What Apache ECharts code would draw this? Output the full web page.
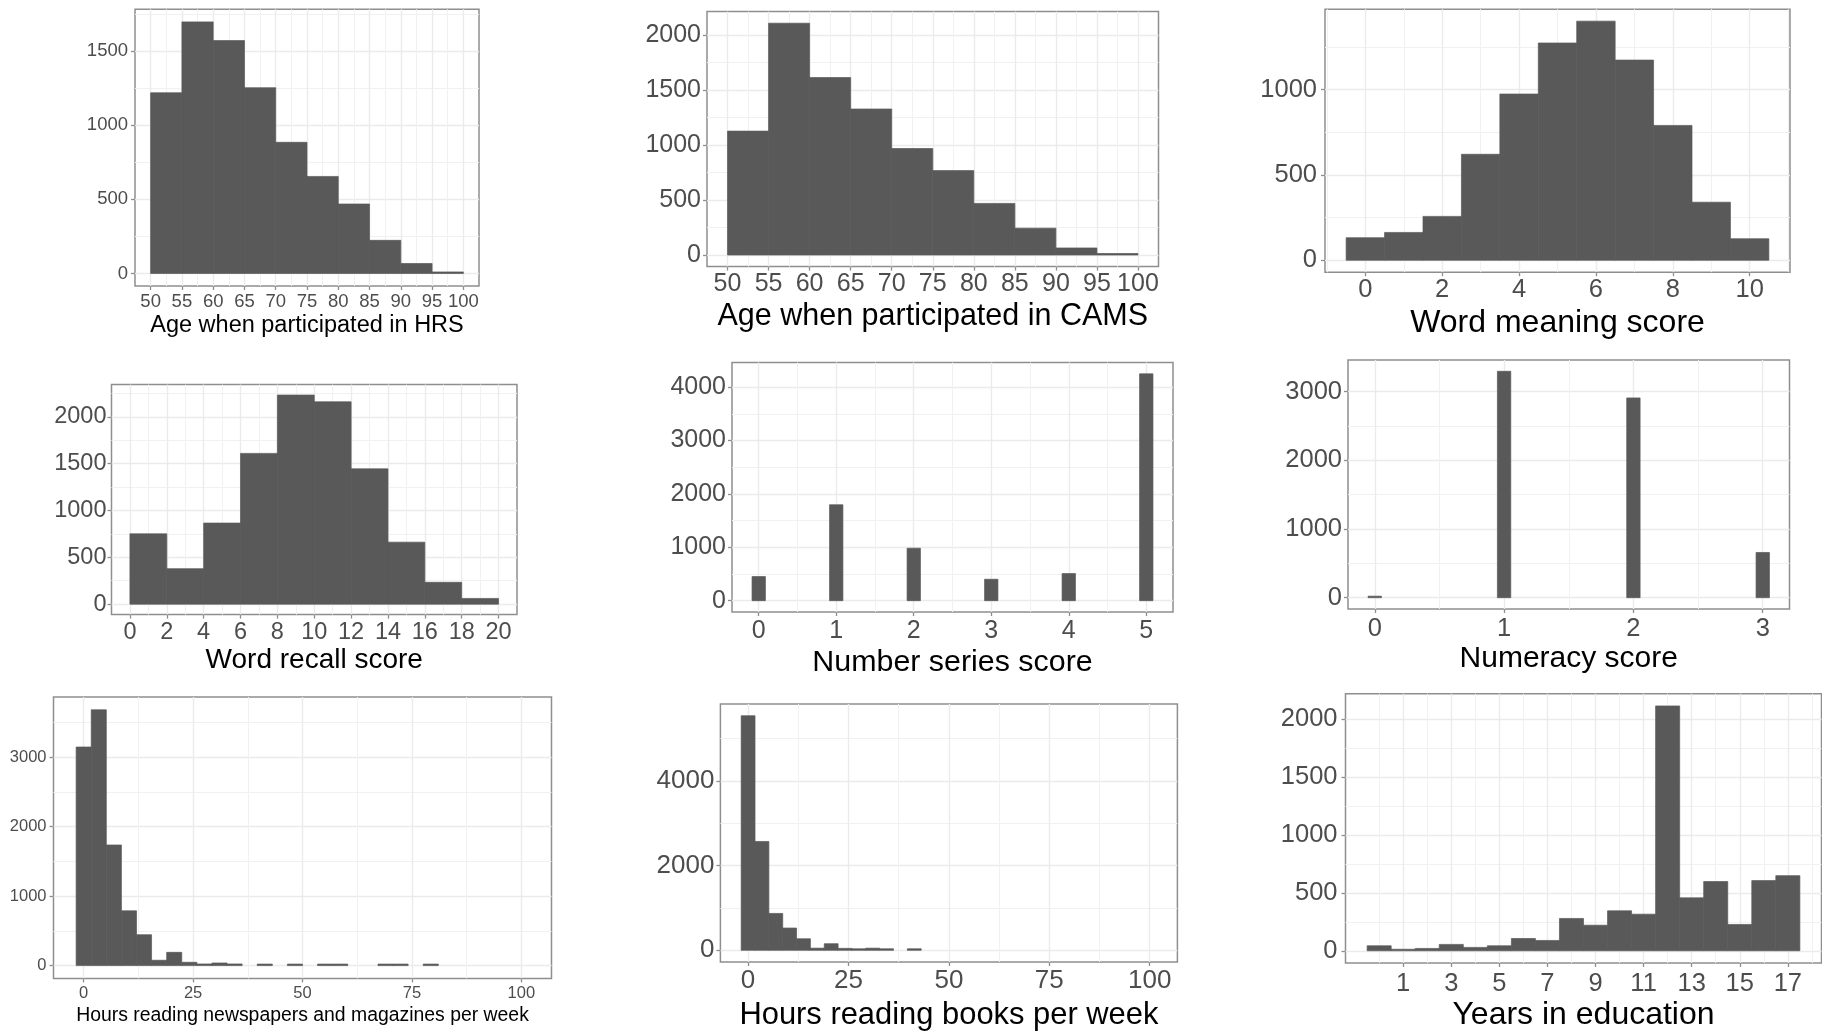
<!DOCTYPE html>
<html><head><meta charset="utf-8">
<script src="https://cdn.jsdelivr.net/npm/echarts@6/dist/echarts.min.js"></script>
<style>html,body{margin:0;padding:0;background:#fff}#c{width:1822px;height:1032px}</style>
</head><body><div id="c"></div>
<script>
// ===== DATA =====
// 1. Age when participated in HRS (bin edges, counts)
const hrsAgeEdges = [50, 55, 60, 65, 70, 75, 80, 85, 90, 95, 100];
const hrsAgeCounts = [1218, 1696, 1570, 1252, 884, 654, 468, 223, 67, 5];
const hrsAgeXTicks = [50, 55, 60, 65, 70, 75, 80, 85, 90, 95, 100];
const hrsAgeYTicks = [0, 500, 1000, 1500];

// 2. Age when participated in CAMS
const camsAgeEdges = [50, 55, 60, 65, 70, 75, 80, 85, 90, 95, 100];
const camsAgeCounts = [1126, 2107, 1613, 1327, 968, 767, 469, 244, 64, 9];
const camsAgeXTicks = [50, 55, 60, 65, 70, 75, 80, 85, 90, 95, 100];
const camsAgeYTicks = [0, 500, 1000, 1500, 2000];

// 3. Word meaning score (bin centres, bin width, counts)
const wordMeaningCenters = [0, 1, 2, 3, 4, 5, 6, 7, 8, 9, 10];
const wordMeaningBinWidth = 1;
const wordMeaningCounts = [132, 163, 257, 621, 974, 1273, 1401, 1173, 790, 340, 126];
const wordMeaningXTicks = [0, 2, 4, 6, 8, 10];
const wordMeaningYTicks = [0, 500, 1000];

// 4. Word recall score
const wordRecallEdges = [0, 2, 4, 6, 8, 10, 12, 14, 16, 18, 20];
const wordRecallCounts = [751, 379, 866, 1610, 2233, 2161, 1445, 662, 233, 61];
const wordRecallXTicks = [0, 2, 4, 6, 8, 10, 12, 14, 16, 18, 20];
const wordRecallYTicks = [0, 500, 1000, 1500, 2000];

// 5. Number series score
const numberSeriesCenters = [0, 1, 2, 3, 4, 5];
const numberSeriesBinWidth = 0.1724;
const numberSeriesCounts = [451, 1797, 983, 401, 507, 4250];
const numberSeriesXTicks = [0, 1, 2, 3, 4, 5];
const numberSeriesYTicks = [0, 1000, 2000, 3000, 4000];

// 6. Numeracy score
const numeracyCenters = [0, 1, 2, 3];
const numeracyBinWidth = 0.1034;
const numeracyCounts = [10, 3295, 2908, 658];
const numeracyXTicks = [0, 1, 2, 3];
const numeracyYTicks = [0, 1000, 2000, 3000];

// 7. Hours reading newspapers and magazines per week
const newsCenters = [0, 3.45, 6.9, 10.34, 13.79, 17.24, 20.69, 24.14, 27.59, 31.03, 34.48, 37.93, 41.38, 44.83, 48.28,
  51.72, 55.17, 58.62, 62.07, 65.52, 68.97, 72.41, 75.86, 79.31, 82.76, 86.21, 89.66, 93.1, 96.55, 100];
const newsBinWidth = 3.448;
const newsCounts = [3148, 3684, 1737, 789, 445, 77, 191, 48, 24, 38, 24, 0, 6, 0, 6,
  0, 6, 6, 0, 0, 6, 6, 0, 6, 0, 0, 0, 0, 0, 0];
const newsXTicks = [0, 25, 50, 75, 100];
const newsYTicks = [0, 1000, 2000, 3000];

// 8. Hours reading books per week
const booksCenters = [0, 3.45, 6.9, 10.34, 13.79, 17.24, 20.69, 24.14, 27.59, 31.03, 34.48, 37.93, 41.38, 44.83, 48.28,
  51.72, 55.17, 58.62, 62.07, 65.52, 68.97, 72.41, 75.86, 79.31, 82.76, 86.21, 89.66, 93.1, 96.55, 100];
const booksBinWidth = 3.448;
const booksCounts = [5540, 2570, 870, 525, 272, 50, 155, 45, 28, 50, 22, 0, 18, 0, 0,
  0, 0, 0, 0, 0, 0, 0, 0, 0, 0, 0, 0, 0, 0, 0];
const booksXTicks = [0, 25, 50, 75, 100];
const booksYTicks = [0, 2000, 4000];

// 9. Years in education
const educationCenters = [0, 1, 2, 3, 4, 5, 6, 7, 8, 9, 10, 11, 12, 13, 14, 15, 16, 17];
const educationBinWidth = 1;
const educationCounts = [43, 11, 20, 55, 29, 43, 106, 89, 279, 221, 345, 316, 2115, 457, 598, 227, 606, 649];
const educationXTicks = [1, 3, 5, 7, 9, 11, 13, 15, 17];
const educationYTicks = [0, 500, 1000, 1500, 2000];

// ===== HELPERS =====
function binsFromEdges(edges, counts) { return counts.map((c, i) => [edges[i], edges[i + 1], c]); }
function binsFromCenters(centers, w, counts) { return counts.map((c, i) => [centers[i] - w / 2, centers[i] + w / 2, c]); }
function minorOf(majors, min, max) {
  const step = majors[1] - majors[0];
  const b = [majors[0] - step].concat(majors, [majors[majors.length - 1] + step]);
  const out = [];
  for (let i = 0; i < b.length - 1; i++) out.push((b[i] + b[i + 1]) / 2);
  return out.filter(v => v > min && v < max);
}

const FONT = "'Liberation Sans', Arial, Helvetica, sans-serif";

const panels = [
  { bins: binsFromEdges(hrsAgeEdges, hrsAgeCounts), xt: hrsAgeXTicks, yt: hrsAgeYTicks, title: 'Age when participated in HRS',
    L: 135, T: 9.3, W: 344, H: 276.7, tick: 18.5, name: 23.5, xm: 6, ym: 7, gap: 27.5 },
  { bins: binsFromEdges(camsAgeEdges, camsAgeCounts), xt: camsAgeXTicks, yt: camsAgeYTicks, title: 'Age when participated in CAMS',
    L: 707, T: 11.6, W: 451.5, H: 255, tick: 25, name: 30.5, xm: 5, ym: 6, gap: 34 },
  { bins: binsFromCenters(wordMeaningCenters, wordMeaningBinWidth, wordMeaningCounts), xt: wordMeaningXTicks, yt: wordMeaningYTicks, title: 'Word meaning score',
    L: 1325, T: 9.2, W: 465, H: 263, tick: 25.5, name: 32, xm: 5, ym: 8, gap: 34.5 },
  { bins: binsFromEdges(wordRecallEdges, wordRecallCounts), xt: wordRecallXTicks, yt: wordRecallYTicks, title: 'Word recall score',
    L: 111.5, T: 384.6, W: 405.5, H: 230, tick: 23.5, name: 28, xm: 6, ym: 5, gap: 31.5 },
  { bins: binsFromCenters(numberSeriesCenters, numberSeriesBinWidth, numberSeriesCounts), xt: numberSeriesXTicks, yt: numberSeriesYTicks, title: 'Number series score',
    L: 732, T: 362.5, W: 441, H: 249.5, tick: 25, name: 30.4, xm: 7, ym: 6, gap: 35.5 },
  { bins: binsFromCenters(numeracyCenters, numeracyBinWidth, numeracyCounts), xt: numeracyXTicks, yt: numeracyYTicks, title: 'Numeracy score',
    L: 1348, T: 360, W: 441.5, H: 249, tick: 25.5, name: 30, xm: 7, ym: 6, gap: 35 },
  { bins: binsFromCenters(newsCenters, newsBinWidth, newsCounts), xt: newsXTicks, yt: newsYTicks, title: 'Hours reading newspapers and magazines per week',
    L: 53.5, T: 697, W: 498, H: 281.4, tick: 16.5, name: 19.4, xm: 7, ym: 7, gap: 27.3 },
  { bins: binsFromCenters(booksCenters, booksBinWidth, booksCounts), xt: booksXTicks, yt: booksYTicks, title: 'Hours reading books per week',
    L: 720.4, T: 704, W: 457, H: 258, tick: 26, name: 30.9, xm: 6, ym: 6, gap: 37.8 },
  { bins: binsFromCenters(educationCenters, educationBinWidth, educationCounts), xt: educationXTicks, yt: educationYTicks, title: 'Years in education',
    L: 1345.5, T: 693.7, W: 476, H: 269.3, tick: 25.5, name: 32, xm: 8, ym: 8, gap: 36.3 }
];

function renderBin(params, api) {
  const c = api.value(2);
  if (!(c > 0)) return null;
  const a = api.coord([api.value(0), 0]);
  const b = api.coord([api.value(1), c]);
  let h = a[1] - b[1];
  if (h < 1.5) h = 1.5;
  return { type: 'rect', shape: { x: a[0], y: a[1] - h, width: b[0] - a[0], height: h },
    style: { fill: '#595959', stroke: '#595959', lineWidth: 0.7 } };
}

const grid = [], xAxis = [], yAxis = [], series = [];
panels.forEach((p, i) => {
  const x0 = Math.min(...p.bins.map(b => b[0]));
  const x1 = Math.max(...p.bins.map(b => b[1]));
  const xr = x1 - x0;
  const xmin = x0 - 0.05 * xr, xmax = x1 + 0.05 * xr;
  const ymaxData = Math.max(...p.bins.map(b => b[2]));
  const ymin = -0.05 * ymaxData, ymax = 1.05 * ymaxData;

  grid.push({ left: p.L, top: p.T, width: p.W, height: p.H, show: true, backgroundColor: '#ffffff',
    borderColor: '#8e8e8e', borderWidth: 1.5, containLabel: false, outerBoundsMode: 'none' });

  const lbl = { color: '#4d4d4d', fontSize: p.tick, fontFamily: FONT, formatter: v => String(v) };
  // major x
  xAxis.push({ gridIndex: i, type: 'value', min: xmin, max: xmax, position: 'bottom',
    axisLine: { show: false, onZero: false },
    axisTick: { show: true, length: 4, lineStyle: { color: '#8e8e8e', width: 1.3 }, customValues: p.xt },
    axisLabel: Object.assign({ customValues: p.xt, margin: p.xm }, lbl),
    splitLine: { show: true, lineStyle: { color: '#ebebeb', width: 1.4 } },
    name: p.title, nameLocation: 'middle', nameGap: p.gap, nameMoveOverlap: false,
    nameTextStyle: { color: '#000000', fontSize: p.name, fontFamily: FONT } });
  // minor x
  xAxis.push({ gridIndex: i, type: 'value', min: xmin, max: xmax, position: 'top',
    axisLine: { show: false, onZero: false }, axisTick: { show: false, customValues: minorOf(p.xt, xmin, xmax) },
    axisLabel: { show: false }, splitLine: { show: true, lineStyle: { color: '#f1f1f1', width: 1 } } });
  // major y
  yAxis.push({ gridIndex: i, type: 'value', min: ymin, max: ymax, position: 'left',
    axisLine: { show: false, onZero: false },
    axisTick: { show: true, length: 4, lineStyle: { color: '#8e8e8e', width: 1.3 }, customValues: p.yt },
    axisLabel: Object.assign({ customValues: p.yt, margin: p.ym }, lbl),
    splitLine: { show: true, lineStyle: { color: '#ebebeb', width: 1.4 } } });
  // minor y
  yAxis.push({ gridIndex: i, type: 'value', min: ymin, max: ymax, position: 'right',
    axisLine: { show: false, onZero: false }, axisTick: { show: false, customValues: minorOf(p.yt, ymin, ymax) },
    axisLabel: { show: false }, splitLine: { show: true, lineStyle: { color: '#f1f1f1', width: 1 } } });

  series.push({ type: 'custom', xAxisIndex: 2 * i, yAxisIndex: 2 * i, data: p.bins,
    encode: { x: [0, 1], y: 2 }, renderItem: renderBin, clip: true, silent: true, animation: false });
});

const chart = echarts.init(document.getElementById('c'), null, { renderer: 'canvas', width: 1822, height: 1032 });
chart.setOption({ backgroundColor: '#ffffff', animation: false, grid, xAxis, yAxis, series });
</script>
</body></html>
